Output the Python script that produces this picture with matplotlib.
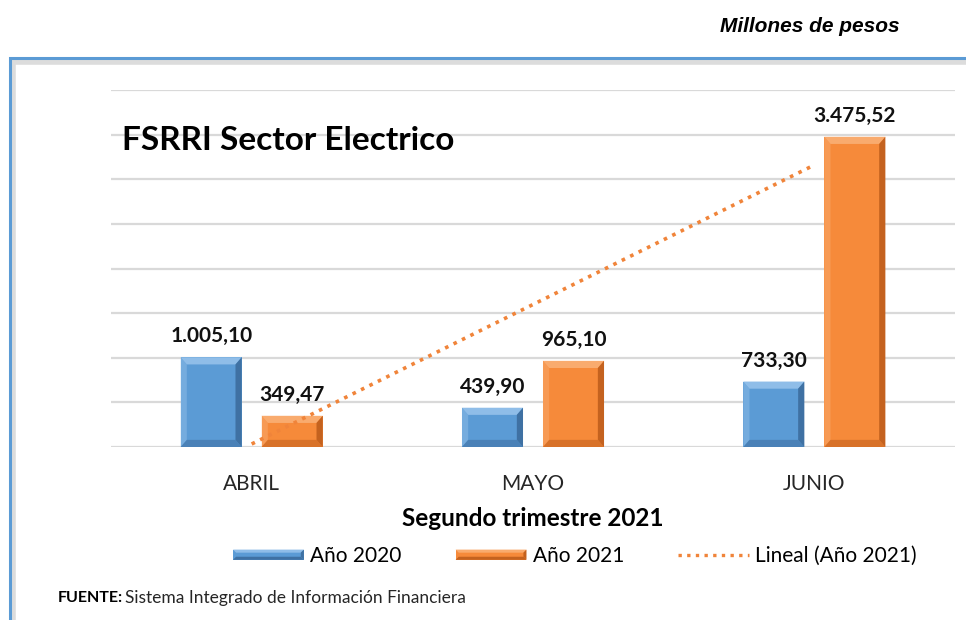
import numpy as np
import matplotlib.pyplot as plt
from matplotlib.patches import Polygon, Rectangle
from matplotlib.lines import Line2D
from matplotlib.legend_handler import HandlerBase

plt.rcParams['font.family'] = ['Lato', 'DejaVu Sans']

# datos (millones de pesos)
meses = ['ABRIL', 'MAYO', 'JUNIO']
anio_2020 = [1005.10, 439.90, 733.30]
anio_2021 = [349.47, 965.10, 3475.52]

azul = ('#5b9bd5', '#8fbde8', '#3f71a3')
naranja = ('#f68a3a', '#f9ab6e', '#c4621f')


def fmt_es(v):
    s = f"{v:,.2f}"
    return s.replace(',', 'X').replace('.', ',').replace('X', '.')


def bisel(ax, bar, colores, bx, by):
    # bar shaded like excel's bevel
    x0, y0 = bar.get_x(), bar.get_y()
    x1, y1 = x0 + bar.get_width(), y0 + bar.get_height()
    by = min(by, (y1 - y0) * 0.3)
    base, claro, oscuro = colores
    ix0, ix1, iy0, iy1 = x0 + bx, x1 - bx, y0 + by, y1 - by
    z = 3
    ax.add_patch(Polygon([(x0, y1), (x1, y1), (ix1, iy1), (ix0, iy1)], color=claro, lw=0, zorder=z))
    ax.add_patch(Polygon([(x0, y0), (x0, y1), (ix0, iy1), (ix0, iy0)], color=claro, lw=0, alpha=0.5, zorder=z))
    ax.add_patch(Polygon([(x1, y0), (x1, y1), (ix1, iy1), (ix1, iy0)], color=oscuro, lw=0, zorder=z))
    ax.add_patch(Polygon([(x0, y0), (x1, y0), (ix1, iy0), (ix0, iy0)], color=oscuro, lw=0, alpha=0.6, zorder=z))


class HandlerBisel(HandlerBase):
    def __init__(self, colores):
        super().__init__()
        self.colores = colores

    def create_artists(self, legend, orig_handle, xdescent, ydescent, width, height, fontsize, trans):
        base, claro, oscuro = self.colores
        h = height * 0.7
        y = -ydescent + (height - h) / 2
        b = h * 0.3
        x0 = -xdescent
        arts = [
            Rectangle((x0, y), width, h, color=base, lw=0, transform=trans),
            Polygon([(x0, y + h), (x0 + width, y + h), (x0 + width - b, y + h - b), (x0 + b, y + h - b)], color=claro, lw=0, transform=trans),
            Polygon([(x0, y), (x0 + width, y), (x0 + width - b, y + b), (x0 + b, y + b)], color=oscuro, lw=0, transform=trans),
            Polygon([(x0 + width, y), (x0 + width, y + h), (x0 + width - b, y + h - b), (x0 + width - b, y + b)], color=oscuro, lw=0, transform=trans),
        ]
        return arts


fig = plt.figure(figsize=(9.66, 6.2), dpi=100)
fig.patch.set_facecolor('white')

# marco (solo se ven el borde izquierdo y el superior)
fig.add_artist(Rectangle((13 / 966, -10 / 620), 960 / 966, 568 / 620, transform=fig.transFigure,
                         fill=False, edgecolor='#dcdcdc', lw=4))
fig.add_artist(Rectangle((10 / 966, -10 / 620), 970 / 966, 572 / 620, transform=fig.transFigure,
                         fill=False, edgecolor='#5b9bd5', lw=2.2))

ax = fig.add_axes([111 / 966, 1 - 447 / 620, 844 / 966, 357 / 620])
ax.set_facecolor('none')

x = np.arange(len(meses))
ancho = 0.217
desp = 0.144
b1 = ax.bar(x - desp, anio_2020, ancho, color=azul[0], zorder=2)
b2 = ax.bar(x + desp, anio_2021, ancho, color=naranja[0], zorder=2)
for bar in b1:
    bisel(ax, bar, azul, 0.022, 80)
for bar in b2:
    bisel(ax, bar, naranja, 0.022, 80)

for barras, vals in ((b1, anio_2020), (b2, anio_2021)):
    for bar, v in zip(barras, vals):
        ax.annotate(fmt_es(v), (bar.get_x() + bar.get_width() / 2, bar.get_height()),
                    xytext=(0, 15), textcoords='offset points', ha='center', va='center',
                    fontsize=15, fontweight='bold', color='#111111')

# linea de tendencia (lineal, 2021)
pend, inter = np.polyfit(x, anio_2021, 1)
ax.plot(x, pend * x + inter, linestyle=(0, (1, 1.6)), color='#f0843a', lw=2.6, zorder=4)

ax.set_xlim(-0.5, 2.5)
ax.set_ylim(0, 4000)
ax.set_yticks(np.arange(0, 4001, 500))
ax.yaxis.grid(True, color='#d9d9d9', lw=1.6)
ax.set_axisbelow(True)
ax.tick_params(axis='y', left=False, labelleft=False)
ax.tick_params(axis='x', bottom=False, pad=16)
ax.set_xticks(x)
ax.set_xticklabels(meses, fontsize=15, color='#262626')
for s in ax.spines.values():
    s.set_visible(False)
ax.set_xlabel('Segundo trimestre 2021', fontsize=17.5, fontweight='bold', labelpad=9)

fig.text(122 / 966, 1 - 140 / 620, 'FSRRI Sector Electrico', fontsize=24, fontweight='bold',
         va='center', ha='left')

fig.text(900 / 966, 1 - 27 / 620, 'Millones de pesos', fontsize=15, fontweight='bold',
         fontstyle='italic', family='Liberation Sans', ha='right', va='center')

fig.text(58 / 966, 1 - 598 / 620, 'FUENTE:', fontsize=11.5, fontweight='bold', va='center')
fig.text(125 / 966, 1 - 598 / 620, 'Sistema Integrado de Información Financiera', fontsize=12.5,
         va='center', color='#262626')

h1 = Rectangle((0, 0), 1, 1)
h2 = Rectangle((0, 0), 1, 1)
h3 = Line2D([], [], linestyle=(0, (1, 1.6)), color='#f0843a', lw=2.4)
fig.legend([h1, h2, h3], ['Año 2020', 'Año 2021', 'Lineal (Año 2021)'],
           handler_map={h1: HandlerBisel(azul), h2: HandlerBisel(naranja)},
           loc='center', bbox_to_anchor=(575 / 966, 1 - 556 / 620), ncol=3, frameon=False,
           fontsize=15, handlelength=3.4, columnspacing=2.6, handletextpad=0.3)

fig.savefig('out.png', dpi=100)
